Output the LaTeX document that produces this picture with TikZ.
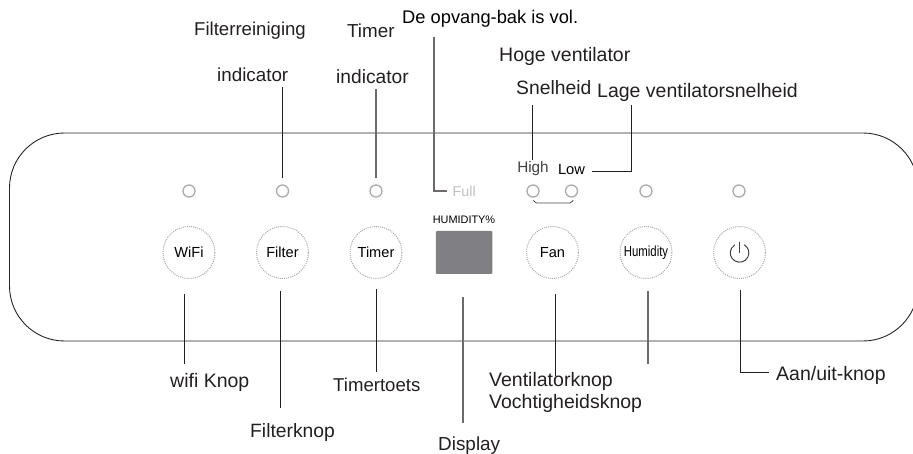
\documentclass[tikz,border=0pt]{standalone}
\usepackage{fontspec}
\usepackage{graphicx}
\setmainfont{Liberation Sans}
\definecolor{lab}{HTML}{231F20}
\definecolor{ledgray}{HTML}{ABABAB}
\definecolor{dotgray}{HTML}{A8A8A8}
\definecolor{dispgray}{HTML}{807F83}
\definecolor{linegray}{HTML}{6E6A6A}
\tikzset{
  x=1pt,y=1pt,
  panel/.style={draw=black!85,line width=.9pt},
  led/.style={circle,draw=ledgray,line width=1.3pt,minimum size=12pt,inner sep=0pt,outer sep=6.5pt},
  btn/.style={circle,draw=dotgray,line width=1pt,dash pattern=on 1pt off 1.1pt,minimum size=52pt,inner sep=0pt,text=black,font=\fontsize{14.6}{17}\selectfont},
  callout/.style={anchor=west,inner sep=0pt,text=lab,font=\fontsize{#1}{22}\selectfont},
  callout/.default=19.5,
  leader/.style={draw=lab,line width=.95pt},
  leadergray/.style={draw=linegray,line width=1.1pt},
  small/.style={inner sep=0pt,font=\fontsize{#1}{17}\selectfont},
}
\begin{document}
\begin{tikzpicture}
\useasboundingbox (0,-454) rectangle (913,0);
\clip (0,-454) rectangle (913,0);
% panel
\draw[panel,rounded corners=55pt] (9.5,-133) rectangle (918,-341);
% LEDs
\node[led] (l1) at (189,-191) {};
\node[led] (l2) at (282.5,-191) {};
\node[led] (l3) at (376,-191) {};
\node[led] (l4) at (533,-191) {};
\node[led] (l5) at (571.5,-191) {};
\node[led] (l6) at (646,-191) {};
\node[led] (l7) at (739,-191) {};
% buttons
\node[btn] (b1) at (189,-252.5) {WiFi};
\node[btn] (b2) at (282.5,-252.5) {Filter};
\node[btn] (b3) at (376,-252.5) {Timer};
\node[btn] (b4) at (552.5,-252.5) {Fan};
\node[btn] (b5) at (646,-252.5) {\scalebox{.78}[1]{Humidity}};
\node[btn] (b6) at (739.5,-252.5) {};
\draw[draw=black!75,line width=1pt] (744.2,-244.8) arc[start angle=60,end angle=-240,radius=9.3];
\draw[draw=black!75,line width=1pt] (739.5,-241.7) -- (739.5,-253);
% display
\node[inner sep=0pt,font=\fontsize{10.9}{12}\selectfont,text=black] (hum) at (464,-219.5) {HUMIDITY\%};
\node[fill=dispgray,rounded corners=1pt,minimum width=56.5pt,minimum height=43pt,inner sep=0pt] (disp) at (464,-252.5) {};
% small labels
\node[small=14.3,text=black!25,anchor=west] (full) at (452.5,-191) {Full};
\node[small=15.3,text=black!75] (high) at (533,-169) {High};
\node[small=14.7,text=black] (low) at (571.5,-169.5) {Low};
% callouts
\node[callout=18.6] (c1) at (194,-31) {Filterreiniging};
\node[callout=18.8] (c2) at (217,-75) {indicator};
\node[callout=18.8] (c3) at (347,-31) {Timer};
\node[callout=19.2] (c4) at (336,-77) {indicator};
\node[callout=18.3,text=black] (c5) at (402,-19) {De opvang-bak is vol.};
\node[callout] (c6) at (499,-56) {Hoge ventilator};
\node[callout=19.3] (c7) at (516,-88) {Snelheid};
\node[callout] (c8) at (597,-92) {Lage ventilatorsnelheid};
\node[callout] (c9) at (170,-382) {wifi Knop};
\node[callout=19.3] (c10) at (250,-433) {Filterknop};
\node[callout=18.6] (c11) at (333,-385) {Timertoets};
\node[callout=18.9] (c12) at (438,-446) {Display};
\node[callout] (c13) at (489,-381) {Ventilatorknop};
\node[callout] (c14) at (489,-403) {Vochtigheidsknop};
\node[callout] (c15) at (776,-375) {Aan/uit-knop};
% free ends of the leaders
\coordinate (t2) at (282.5,-87);
\coordinate (t3) at (376,-89);
\coordinate (t4) at (434,-37);
\coordinate (t5) at (532.5,-105);
\coordinate (t6) at (631.5,-105);
\coordinate (e4) at (447,-191);
\coordinate (e5) at (532.5,-160);
\coordinate (e6) at (592,-171.5);
\coordinate (s1) at (184.5,-294);\coordinate (f1) at (184.5,-364);
\coordinate (s2) at (280.7,-291);\coordinate (f2) at (280.7,-408);
\coordinate (s3) at (376.5,-289);\coordinate (f3) at (376.5,-372);
\coordinate (s4) at (463,-297);\coordinate (f4) at (463,-423);
\coordinate (s5) at (555.5,-294);\coordinate (f5) at (555.5,-376);
\coordinate (s6) at (648,-291);\coordinate (f6) at (648,-364);
\coordinate (s7) at (740.5,-290);\coordinate (f7) at (769,-372.5);
% leaders
\draw[leader] (t2) -- (l2.north);
\draw[leadergray] (t3) -- (l3.north);
\draw[leadergray] (t4) |- (e4);
\draw[leader] (t5) -- (e5);
\draw[leader] (t6) |- (e6);
\draw[leader] (s1) -- (f1);
\draw[leader] (s2) -- (f2);
\draw[leader] (s3) -- (f3);
\draw[leadergray] (s4) -- (f4);
\draw[leader] (s5) -- (f5);
\draw[leadergray] (s6) -- (f6);
\draw[leader] (s7) |- (f7);
% bracket under the fan LEDs
\draw[draw=black!70,line width=.8pt,rounded corners=2pt] (533.5,-200) -- (534.5,-203) -- (572,-203) -- (573,-200);
\end{tikzpicture}
\end{document}
